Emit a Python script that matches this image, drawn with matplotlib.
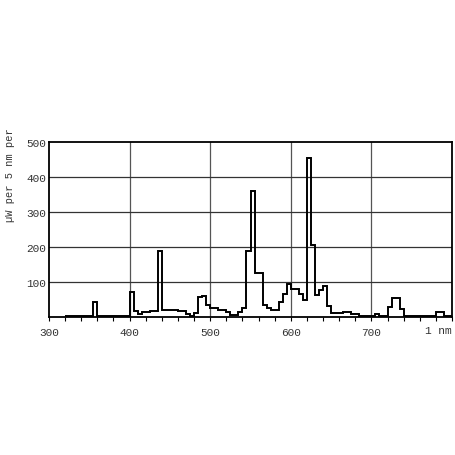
import matplotlib
matplotlib.use("Agg")
import matplotlib.pyplot as plt
import numpy as np

# Spectral power distribution (5 nm bins)
edges = [320, 355, 360, 400, 405, 410, 415, 425, 435, 440,
         460, 470, 475, 480, 485, 490, 495, 500, 510, 520,
         525, 535, 540, 545, 550, 555, 565, 570, 575, 585,
         590, 595, 600, 610, 615, 620, 625, 630, 635, 640,
         645, 650, 665, 675, 685, 705, 710, 720, 725, 735,
         740, 780, 790, 800]
power = [4, 42, 4, 72, 18, 8, 13, 18, 188, 21,
         16, 10, 4, 12, 56, 60, 35, 27, 20, 13,
         5, 15, 26, 188, 360, 125, 34, 26, 20, 42,
         66, 94, 80, 65, 48, 453, 207, 64, 77, 88,
         32, 12, 15, 10, 4, 10, 4, 30, 53, 22,
         3, 15, 3]
x_ticks = [300, 400, 500, 600, 700]
x_tick_labels = ["300", "400", "500", "600", "700"]
y_ticks = [100, 200, 300, 400, 500]
y_tick_labels = ["100", "200", "300", "400", "500"]

plt.rcParams['font.family'] = ['Liberation Mono', 'DejaVu Sans Mono']

fig = plt.figure(figsize=(4.56, 4.56), dpi=100)
ax = fig.add_axes([49/456, 1 - 318/456, (452 - 49)/456, (318 - 143)/456])

ax.stairs(power, edges, baseline=None, color='black', linewidth=1.4)

ax.set_xlim(300, 800)
ax.set_ylim(0, 500)
ax.set_xticks(x_ticks)
ax.set_xticklabels(x_tick_labels, fontsize=8, color='#333333')
ax.set_xticks(np.arange(300, 801, 20), minor=True)
ax.set_yticks(y_ticks)
ax.set_yticklabels(y_tick_labels, fontsize=8, color='#333333')

ax.tick_params(axis='x', which='both', direction='out', length=3, width=0.8, pad=4)
ax.tick_params(axis='y', which='both', length=0, pad=2)

for v in x_ticks[1:]:
    ax.axvline(v, color='#555555', linewidth=0.9, zorder=0)
for v in y_ticks[:-1]:
    ax.axhline(v, color='#333333', linewidth=0.9, zorder=0)

for s in ax.spines.values():
    s.set_linewidth(1.3)
    s.set_color('black')

ax.text(1.0, -0.048, "1 nm", transform=ax.transAxes, ha='right', va='top',
        fontsize=8, color='#333333')

fig.text(10/456, 1 - 175/456, "\u00b5W per 5 nm per", rotation=90,
         ha='center', va='center', fontsize=7.5, color='#333333')

fig.savefig("out.png", dpi=100)
